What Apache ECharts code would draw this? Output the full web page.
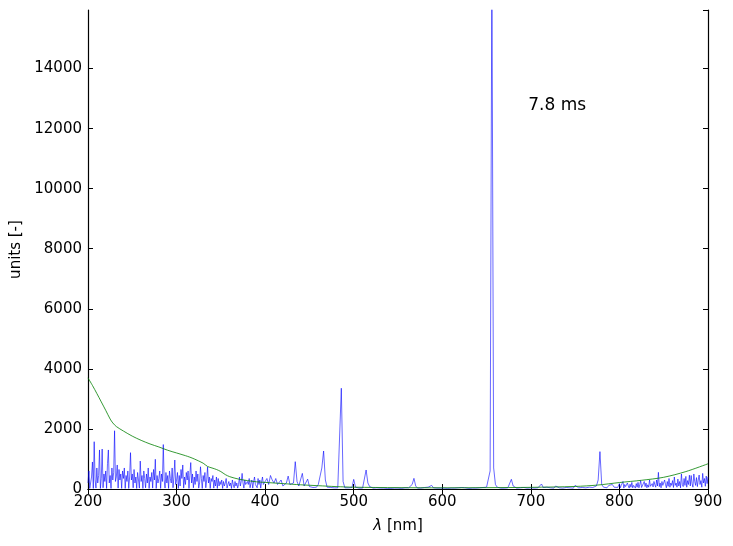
<!DOCTYPE html>
<html><head><meta charset="utf-8">
<script src="https://cdn.jsdelivr.net/npm/echarts@6/dist/echarts.min.js"></script>
<style>html,body{margin:0;padding:0;background:#fff}#c{width:733px;height:546px}</style>
</head><body><div id="c"></div>
<script>
// Blue spectrum, three sampled segments
// Segment 1: 200-399 nm, every 1 nm
const blueSeg1 = {start: 200, step: 1, values: [
  200,600,20,50,400,900,20,1575,300,30,
  700,200,450,1300,20,350,1330,40,500,250,
  600,20,850,1300,200,450,20,700,300,550,
  1940,250,400,800,30,650,300,500,20,600,
  350,700,20,450,250,600,20,400,1210,300,
  500,40,650,200,400,20,550,300,30,930,
  250,450,20,600,350,40,500,200,700,20,
  400,250,550,30,650,300,990,20,450,200,
  350,600,20,500,250,1480,300,30,550,200,
  450,20,600,350,200,700,40,400,965,150,
  300,550,20,450,100,650,350,800,30,400,
  150,550,300,600,20,450,880,200,500,40,
  400,150,600,250,500,30,200,740,350,20,
  450,250,550,40,300,730,200,400,20,350,
  250,450,30,300,100,400,20,350,100,250,
  150,300,20,250,100,200,350,30,150,250,
  100,200,20,300,150,40,250,100,200,30,
  150,400,100,250,520,200,30,300,150,100,
  250,150,350,40,200,300,30,250,400,150,
  200,40,350,150,300,30,250,400,150,200
]};
// Segment 2: 400-798 nm, every 2 nm
const blueSeg2 = {start: 400, step: 2, values: [
  250,350,150,450,300,200,350,150,200,300,
  100,150,200,430,150,100,200,910,250,100,
  150,520,100,150,330,80,60,50,40,60,
  150,200,700,1265,300,60,40,50,30,40,
  30,40,100,3355,250,40,30,40,30,50,
  320,60,40,30,40,30,50,633,200,80,
  40,30,30,40,30,30,20,30,40,20,
  30,20,40,30,20,30,40,20,30,40,
  30,40,60,150,355,100,30,40,30,40,
  50,30,60,40,120,40,100,30,40,30,
  40,30,50,20,40,30,60,30,20,40,
  30,50,20,40,30,20,50,30,40,30,
  30,40,30,50,40,60,120,600,17500,700,
  150,60,40,30,40,30,50,40,80,323,
  100,40,30,60,40,30,50,40,30,60,
  40,60,30,50,40,100,167,50,40,60,
  80,40,60,30,100,50,40,90,30,60,
  50,100,40,80,30,120,60,40,90,50,
  80,40,100,60,120,50,80,100,300,1245,
  150,60,100,40,120,80,150,60,100,50
]};
// Segment 3: 800-900 nm, every 1 nm
const blueSeg3 = {start: 800, step: 1, values: [
  180,40,120,60,250,30,150,80,40,200,
  100,30,160,60,220,40,120,90,30,180,
  60,220,40,150,280,50,100,30,250,80,
  200,40,140,60,300,90,30,180,70,250,
  140,60,300,100,555,80,200,40,250,120,
  60,300,150,40,250,90,350,60,200,120,
  280,50,400,120,200,60,330,100,250,40,
  500,150,80,350,120,420,60,280,150,460,
  100,450,180,60,500,250,120,380,80,300,
  465,150,280,60,520,200,350,90,430,180,
  400
]};
// Green reference curve
const greenWavelengths = [200,205,210,215,220,225,228,232,240,250,260,270,280,290,300,310,315,320,330,335,340,345,350,355,360,370,380,390,400,420,440,460,480,500,550,600,650,700,750,775,800,825,850,875,900];
const greenValues =      [3700,3450,3180,2900,2620,2330,2200,2080,1930,1760,1620,1500,1400,1290,1200,1110,1060,1000,860,750,700,650,580,480,410,330,280,240,220,180,140,110,80,60,45,40,45,55,85,130,215,290,390,580,840];

const xTicks = [200,300,400,500,600,700,800,900];
const yTicks = [0,2000,4000,6000,8000,10000,12000,14000];
const annotation = {x: 697, y: 12500, text: '7.8 ms'};

const blueData = [blueSeg1, blueSeg2, blueSeg3].flatMap(s => s.values.map((v, i) => [s.start + i * s.step, v]));
const greenData = greenWavelengths.map((w, i) => [w, greenValues[i]]);

const FONT = 'DejaVu Sans';
const chart = echarts.init(document.getElementById('c'), null, {renderer: 'canvas'});
const tickStyle = {show: true, inside: true, length: 5, lineStyle: {color: '#000', width: 1}};
const lineStyleAxis = {show: true, lineStyle: {color: '#000', width: 1.2}};
const option = {
  backgroundColor: '#fff',
  animation: false,
  grid: {left: 88, right: 25, top: 10, bottom: 57, containLabel: false},
  xAxis: [
    {type: 'value', min: xTicks[0], max: xTicks[xTicks.length - 1], interval: 100, position: 'bottom',
     axisLine: lineStyleAxis, axisTick: tickStyle, splitLine: {show: false},
     axisLabel: {color: '#000', fontFamily: FONT, fontSize: 15, margin: 6},
     name: '{i|λ} [nm]', nameLocation: 'middle', nameGap: 30,
     nameTextStyle: {color: '#000', fontFamily: FONT, fontSize: 15,
       rich: {i: {fontStyle: 'italic', fontFamily: FONT, fontSize: 15, color: '#000'}}}},
    {type: 'value', min: xTicks[0], max: xTicks[xTicks.length - 1], interval: 100, position: 'top',
     axisLine: lineStyleAxis, axisTick: tickStyle, splitLine: {show: false}, axisLabel: {show: false}}
  ],
  yAxis: [
    {type: 'value', min: 0, max: 15950, interval: 2000, position: 'left',
     axisLine: lineStyleAxis, axisTick: tickStyle, splitLine: {show: false},
     axisLabel: {color: '#000', fontFamily: FONT, fontSize: 15, margin: 6, showMaxLabel: false,
       formatter: v => yTicks.includes(v) ? String(v) : ''},
     name: 'units [-]', nameLocation: 'middle', nameGap: 56, nameRotate: 90,
     nameTextStyle: {color: '#000', fontFamily: FONT, fontSize: 15}},
    {type: 'value', min: 0, max: 15950, interval: 2000, position: 'right',
     axisLine: lineStyleAxis, axisTick: tickStyle, splitLine: {show: false}, axisLabel: {show: false}}
  ],
  series: [
    {type: 'line', data: blueData, xAxisIndex: 0, yAxisIndex: 0, showSymbol: false, symbol: 'none',
     lineStyle: {color: '#0000ff', width: 0.6}, clip: true, z: 2},
    {type: 'line', data: greenData, xAxisIndex: 0, yAxisIndex: 0, showSymbol: false, symbol: 'none',
     smooth: 0.3, lineStyle: {color: '#008000', width: 0.8}, clip: true, z: 3}
  ]
};
chart.setOption(option);
const p = chart.convertToPixel({xAxisIndex: 0, yAxisIndex: 0}, [annotation.x, annotation.y]);
chart.setOption({graphic: [{type: 'text', x: p[0], y: p[1], style: {text: annotation.text,
  fontFamily: FONT, fontSize: 17, fill: '#000', textAlign: 'left', textVerticalAlign: 'bottom'}}]});
</script></body></html>
